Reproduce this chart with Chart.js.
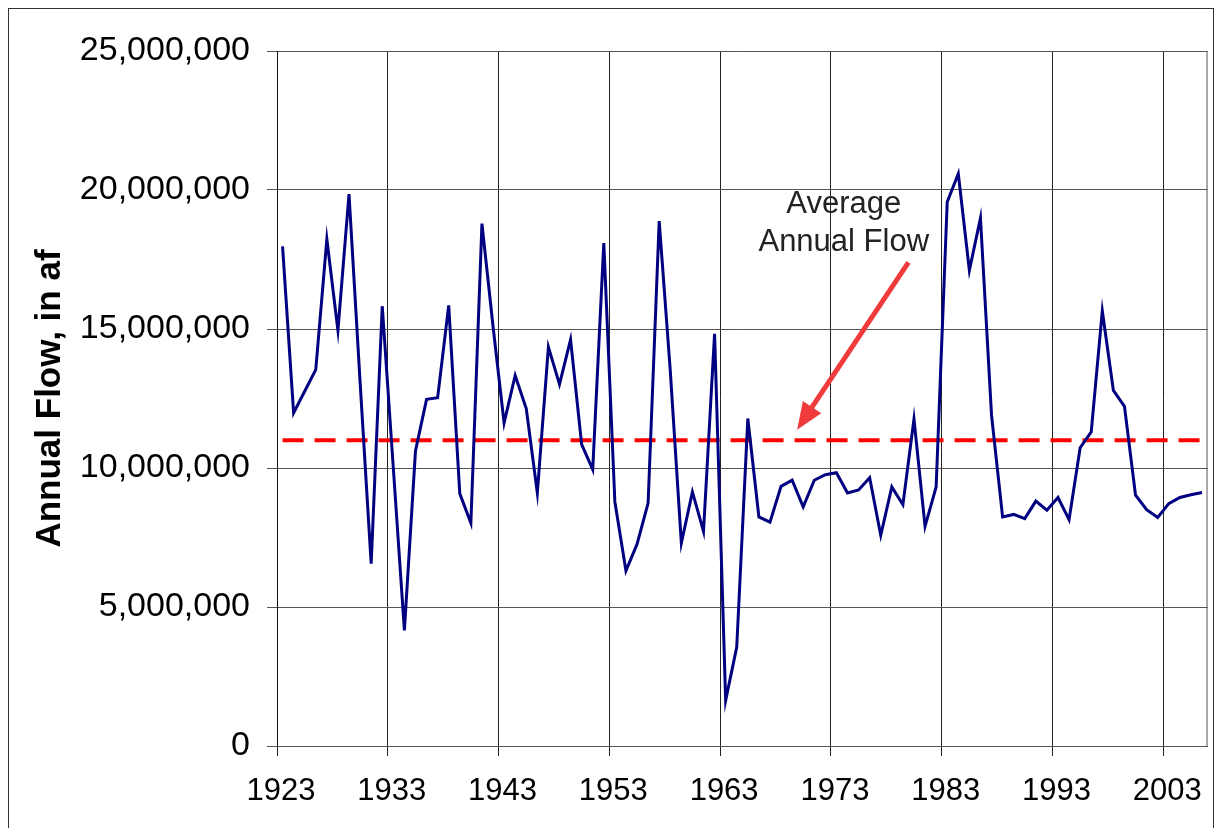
<!DOCTYPE html>
<html>
<head>
<meta charset="utf-8">
<script src="https://cdn.jsdelivr.net/npm/chart.js@4.4.1/dist/chart.umd.min.js"></script>
<style>
  html, body { margin: 0; padding: 0; background: #fff; overflow: hidden; }
  #wrap { position: relative; width: 1215px; height: 828px; }
  #frame { position: absolute; left: 8px; top: 8px; width: 1206px; height: 840px; border: 1.5px solid #333; box-sizing: border-box; pointer-events: none; }
  canvas { position: absolute; left: 0; top: 0; }
</style>
</head>
<body>
<div id="wrap">
  <canvas id="flowChart"></canvas>
  <div id="frame"></div>
</div>
<script>
// water years shown on the chart
const years = [
  1923, 1924, 1925, 1926, 1927, 1928, 1929, 1930, 1931, 1932,
  1933, 1934, 1935, 1936, 1937, 1938, 1939, 1940, 1941, 1942,
  1943, 1944, 1945, 1946, 1947, 1948, 1949, 1950, 1951, 1952,
  1953, 1954, 1955, 1956, 1957, 1958, 1959, 1960, 1961, 1962,
  1963, 1964, 1965, 1966, 1967, 1968, 1969, 1970, 1971, 1972,
  1973, 1974, 1975, 1976, 1977, 1978, 1979, 1980, 1981, 1982,
  1983, 1984, 1985, 1986, 1987, 1988, 1989, 1990, 1991, 1992,
  1993, 1994, 1995, 1996, 1997, 1998, 1999, 2000, 2001, 2002,
  2003, 2004, 2005, 2006
];

// annual flow, acre-feet
const annualFlow = [
  17970000, 11980000, 12760000, 13540000, 18230000, 14950000, 19850000, 13100000, 6560000, 15820000,
  10000000, 4160000, 10610000, 12470000, 12530000, 15850000, 9080000, 8020000, 18790000, 15100000,
  11620000, 13330000, 12140000, 9100000, 14350000, 13010000, 14620000, 10850000, 9940000, 18090000,
  8780000, 6300000, 7260000, 8740000, 18880000, 13500000, 7300000, 9140000, 7720000, 14830000,
  1640000, 3560000, 11780000, 8240000, 8050000, 9340000, 9560000, 8600000, 9560000, 9760000,
  9830000, 9100000, 9210000, 9650000, 7580000, 9320000, 8680000, 11760000, 7900000, 9320000,
  19570000, 20590000, 17110000, 18990000, 11900000, 8240000, 8330000, 8180000, 8810000, 8480000,
  8940000, 8140000, 10730000, 11300000, 15650000, 12790000, 12220000, 9020000, 8500000, 8220000,
  8720000, 8940000, 9040000, 9120000
];

const averageFlow = 11000000;

const decadeLabels = [1923, 1933, 1943, 1953, 1963, 1973, 1983, 1993, 2003];
const flowTicks = [0, 5000000, 10000000, 15000000, 20000000, 25000000];

const noteLines = ['Average', 'Annual Flow'];

// arrow + label for the average line, placed in data units
const annotationPlugin = {
  id: 'avgNote',
  afterDatasetsDraw(chart) {
    const { ctx, chartArea, scales: { x, y } } = chart;

    // right edge of plot area
    ctx.save();
    ctx.strokeStyle = '#555';
    ctx.lineWidth = 1;
    ctx.beginPath();
    ctx.moveTo(chartArea.right - 0.5, chartArea.top);
    ctx.lineTo(chartArea.right - 0.5, chartArea.bottom);
    ctx.stroke();
    ctx.restore();

    const tailX = x.getPixelForValue(1979.5);
    const tailY = y.getPixelForValue(17400000);
    const tipX = x.getPixelForValue(1969.45);
    const tipY = y.getPixelForValue(11380000);

    const ang = Math.atan2(tipY - tailY, tipX - tailX);
    const headLen = 27;
    const headHalf = 11;
    const baseX = tipX - headLen * Math.cos(ang);
    const baseY = tipY - headLen * Math.sin(ang);

    ctx.save();
    ctx.strokeStyle = '#ef3b3b';
    ctx.fillStyle = '#ef3b3b';
    ctx.lineWidth = 5;
    ctx.beginPath();
    ctx.moveTo(tailX, tailY);
    ctx.lineTo(baseX + 4 * Math.cos(ang), baseY + 4 * Math.sin(ang));
    ctx.stroke();
    ctx.beginPath();
    ctx.moveTo(tipX, tipY);
    ctx.lineTo(baseX + headHalf * Math.sin(ang), baseY - headHalf * Math.cos(ang));
    ctx.lineTo(baseX - headHalf * Math.sin(ang), baseY + headHalf * Math.cos(ang));
    ctx.closePath();
    ctx.fill();
    ctx.restore();

    ctx.save();
    ctx.fillStyle = '#222';
    ctx.font = "31px 'Liberation Sans', Arial, sans-serif";
    ctx.textAlign = 'center';
    ctx.textBaseline = 'middle';
    const cx = x.getPixelForValue(1973.66);
    ctx.fillText(noteLines[0], cx, y.getPixelForValue(19490000));
    ctx.fillText(noteLines[1], cx, y.getPixelForValue(18120000));
    ctx.restore();
  }
};

const ctx = document.getElementById('flowChart');
new Chart(ctx, {
  type: 'line',
  data: {
    datasets: [
      {
        label: 'Annual Flow',
        data: years.map((yr, i) => ({ x: yr, y: annualFlow[i] })),
        borderColor: '#000080',
        borderWidth: 3,
        pointRadius: 0,
        tension: 0,
        fill: false
      },
      {
        label: 'Average Annual Flow',
        data: [
          { x: years[0], y: averageFlow },
          { x: years[years.length - 1], y: averageFlow }
        ],
        borderColor: '#ff0000',
        borderWidth: 4,
        borderDash: [21, 11],
        pointRadius: 0,
        fill: false
      }
    ]
  },
  options: {
    responsive: true,
    maintainAspectRatio: false,
    animation: false,
    layout: { padding: { left: 0, top: 51, right: 6, bottom: 0 } },
    plugins: {
      legend: { display: false },
      tooltip: { enabled: false }
    },
    scales: {
      x: {
        type: 'linear',
        min: years[0] - 0.5,
        max: years[years.length - 1] + 0.5,
        afterBuildTicks: (scale) => {
          scale.ticks = decadeLabels.map(v => ({ value: v - 0.5 }));
        },
        afterFit: (scale) => { scale.height = 82; },
        grid: {
          color: '#222',
          lineWidth: 1,
          tickLength: 10,
          drawOnChartArea: true
        },
        border: { color: '#555', width: 1 },
        ticks: {
          autoSkip: false,
          maxRotation: 0,
          padding: 17,
          labelOffset: 4,
          color: '#000',
          font: { family: "'Liberation Sans', Arial, sans-serif", size: 31 },
          callback: (value) => String(Math.round(value + 0.5))
        }
      },
      y: {
        min: 0,
        max: 25000000,
        afterBuildTicks: (scale) => {
          scale.ticks = flowTicks.map(v => ({ value: v }));
        },
        afterFit: (scale) => { scale.width = 277; },
        grid: {
          color: '#555',
          lineWidth: 1,
          tickLength: 10
        },
        border: { color: '#111', width: 1 },
        ticks: {
          padding: 17,
          color: '#000',
          font: { family: "'Liberation Sans', Arial, sans-serif", size: 34 },
          callback: (value) => value.toLocaleString('en-US')
        },
        title: {
          display: true,
          text: 'Annual Flow, in af',
          color: '#000',
          padding: { top: 29, bottom: 0 },
          font: { family: "'Liberation Sans', Arial, sans-serif", size: 35, weight: 'bold' }
        }
      }
    }
  },
  plugins: [annotationPlugin]
});
</script>
</body>
</html>
